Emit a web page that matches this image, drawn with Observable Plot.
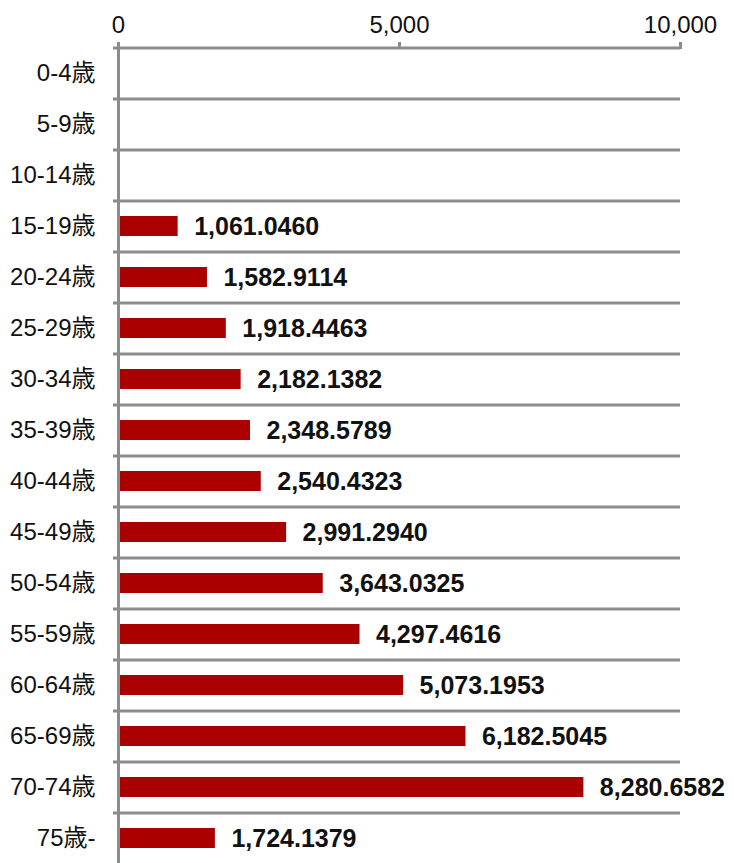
<!DOCTYPE html>
<html>
<head>
<meta charset="utf-8">
<script src="https://cdn.jsdelivr.net/npm/d3@7"></script>
<script src="https://cdn.jsdelivr.net/npm/@observablehq/plot@0.6"></script>
<style>
  html, body { margin: 0; padding: 0; background: #fff; overflow: hidden; }
  #chart svg { display: block; }
  #chart g[aria-label*="x-axis"] line,
  #chart g[aria-label="x-axis tick"] path { stroke: #8c8c8c; stroke-width: 3px; }
  #chart g[aria-label*="axis"] text { fill: #111; font-size: 24px; }
</style>
</head>
<body>
<div id="chart"></div>
<script>
const categories = ["0-4歳","5-9歳","10-14歳","15-19歳","20-24歳","25-29歳","30-34歳","35-39歳","40-44歳","45-49歳","50-54歳","55-59歳","60-64歳","65-69歳","70-74歳","75歳-"];
const values = [null, null, null, 1061.0460, 1582.9114, 1918.4463, 2182.1382, 2348.5789, 2540.4323, 2991.2940, 3643.0325, 4297.4616, 5073.1953, 6182.5045, 8280.6582, 1724.1379];
const xTicks = [0, 5000, 10000];

const data = categories.map((c, i) => ({cat: c, value: values[i]})).filter(d => d.value != null);
const gridRows = categories.map(c => ({cat: c}));

const chart = Plot.plot({
  width: 734,
  height: 864,
  marginTop: 48,
  marginLeft: 118,
  marginRight: 54,
  marginBottom: 0,
  style: {
    fontFamily: '"Liberation Sans", Arial, "Noto Sans CJK JP", sans-serif',
    fontSize: "24px",
    color: "#111",
    background: "#fff",
    overflow: "visible"
  },
  x: {
    domain: [0, 10000],
    axis: "top",
    ticks: xTicks,
    tickFormat: d3.format(","),
    tickSize: 7,
    tickPadding: 9,
    label: null
  },
  y: {
    domain: categories,
    paddingInner: 0.6,
    paddingOuter: 0.3,
    tickSize: 0,
    tickPadding: 23,
    label: null
  },
  marks: [
    Plot.ruleY(gridRows, {y: "cat", dy: -25.5, x1: 0, x2: 10000, insetLeft: -5, stroke: "#8c8c8c", strokeWidth: 3}),
    Plot.barX(data, {x: "value", y: "cat", fill: "#aa0000"}),
    Plot.ruleX([0], {stroke: "#8c8c8c", strokeWidth: 3}),
    Plot.text(data, {
      x: "value", y: "cat",
      text: d => d3.format(",.4f")(d.value),
      dx: 16, textAnchor: "start",
      fontWeight: "bold", fontSize: 25, fill: "#111"
    })
  ]
});
document.getElementById("chart").appendChild(chart);
</script>
</body>
</html>
